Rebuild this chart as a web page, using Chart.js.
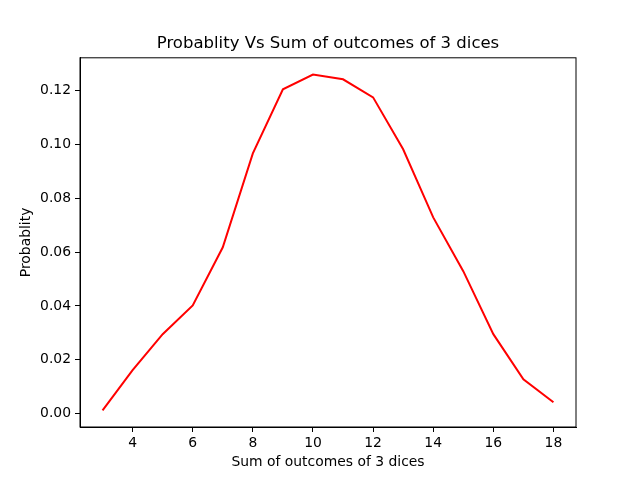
<!DOCTYPE html>
<html>
<head>
<meta charset="utf-8">
<script src="https://cdn.jsdelivr.net/npm/chart.js@4/dist/chart.umd.min.js"></script>
<style>
  html, body { margin: 0; padding: 0; background: #fff; }
  #box { width: 640px; height: 480px; }
</style>
</head>
<body>
<div id="box"><canvas id="diceChart"></canvas></div>
<script>
// sums of 3 dice and the probability
const sums = [3, 4, 5, 6, 7, 8, 9, 10, 11, 12, 13, 14, 15, 16, 17, 18];
const probs = [0.0012, 0.0161, 0.0295, 0.0402, 0.0618, 0.0967, 0.1205, 0.1260,
               0.1242, 0.1175, 0.0982, 0.0729, 0.0529, 0.0295, 0.0127, 0.0042];
const xTicks = [4, 6, 8, 10, 12, 14, 16, 18];
const yTicks = [0.00, 0.02, 0.04, 0.06, 0.08, 0.10, 0.12];

const font = 'DejaVu Sans';
Chart.defaults.font.family = font;
Chart.defaults.color = '#000';

// top and right spines like matplotlib
const frame = {
  id: 'frame',
  afterDraw(chart) {
    const a = chart.chartArea, c = chart.ctx;
    c.save();
    c.strokeStyle = '#000';
    c.lineWidth = 1;
    c.strokeRect(a.left, a.top, a.right - a.left, a.bottom - a.top);
    c.restore();
  }
};

new Chart(document.getElementById('diceChart'), {
  type: 'line',
  data: {
    datasets: [{
      data: sums.map((s, i) => ({ x: s, y: probs[i] })),
      borderColor: '#ff0000',
      borderWidth: 2,
      pointRadius: 0,
      tension: 0,
      fill: false
    }]
  },
  options: {
    responsive: true,
    maintainAspectRatio: false,
    animation: false,
    layout: { padding: { left: 16, right: 0, top: 0, bottom: 0 } },
    plugins: {
      legend: { display: false },
      tooltip: { enabled: false },
      title: {
        display: true,
        text: 'Probablity Vs Sum of outcomes of 3 dices',
        font: { size: 16.5, weight: 'normal' },
        padding: { top: 34, bottom: 4 }
      }
    },
    scales: {
      x: {
        type: 'linear',
        min: 2.25,
        max: 18.75,
        afterBuildTicks: s => { s.ticks = xTicks.map(v => ({ value: v })); },
        afterFit: s => { s.height = 53; },
        ticks: { font: { size: 13.9 }, padding: 3, maxRotation: 0 },
        grid: { display: true, drawOnChartArea: false, color: '#000', tickLength: 5 },
        border: { display: true, color: '#000' },
        title: {
          display: true,
          text: 'Sum of outcomes of 3 dices',
          font: { size: 13.9 },
          padding: { top: 0, bottom: 9 }
        }
      },
      y: {
        type: 'linear',
        min: -0.005,
        max: 0.1322,
        afterBuildTicks: s => { s.ticks = yTicks.map(v => ({ value: v })); },
        afterFit: s => { s.width = 64; },
        ticks: { font: { size: 13.9 }, padding: 4, callback: v => v.toFixed(2) },
        grid: { display: true, drawOnChartArea: false, color: '#000', tickLength: 5 },
        border: { display: true, color: '#000' },
        title: {
          display: true,
          text: 'Probablity',
          font: { size: 13.9 },
          padding: { top: 2, bottom: 0 }
        }
      },
      // empty right margin so the title centres over the plot
      yPad: {
        position: 'right',
        display: true,
        ticks: { display: false },
        grid: { display: false },
        border: { display: false },
        afterFit: s => { s.width = 64; }
      }
    }
  },
  plugins: [frame]
});
</script>
</body>
</html>
